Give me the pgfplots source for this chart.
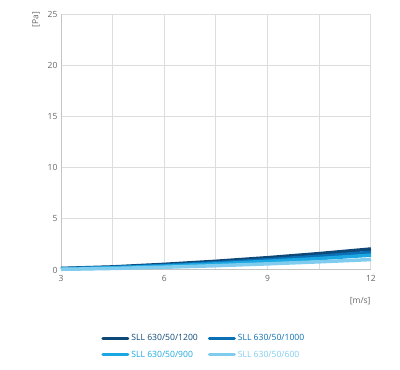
\documentclass[border=0pt]{standalone}
\usepackage{pgfplots}
\pgfplotsset{compat=1.18}
\usepackage{fontspec}
\setmainfont{Open Sans}
\definecolor{c1200}{HTML}{0D4877}
\definecolor{c1000}{HTML}{0A6FB4}
\definecolor{c900}{HTML}{1BA8E2}
\definecolor{c600}{HTML}{7FCCEF}
\definecolor{txt}{HTML}{666666}
\definecolor{gridc}{HTML}{DDDDDD}
\definecolor{axc}{HTML}{C4C4C4}
\begin{document}
\begin{tikzpicture}[x=1pt,y=1pt]
\useasboundingbox (0,0) rectangle (400,370);
\begin{axis}[
  at={(61pt,100pt)}, anchor=south west,
  scale only axis, width=310pt, height=256pt,
  xmin=3, xmax=12, ymin=0, ymax=25,
  xtick={3,6,9,12}, minor xtick={4.5,7.5,10.5},
  ytick={0,5,10,15,20,25},
  grid=both,
  major grid style={gridc, line width=1pt},
  minor grid style={gridc, line width=1pt},
  axis line style={axc, line width=1pt},
  axis x line*=bottom, axis y line*=left,
  tick style={draw=none},
  ticklabel style={font=\fontsize{8.5}{10}\selectfont, text=txt},
  /pgf/number format/assume math mode=true,
  xticklabel style={yshift=-2pt},
  clip=false,
  legend columns=2,
  legend cell align=left,
  legend style={draw=none, fill=none, at={(0.12,-0.235)}, anchor=north west,
    font=\fontsize{8.6}{10}\selectfont, /tikz/every even column/.append style={column sep=8pt},
    row sep=5pt},
  legend image code/.code={\draw[#1, line width=3pt, line cap=round] (0pt,0pt) -- (25pt,0pt);},
]
\addplot[c1200, line width=3.5pt] coordinates {(3,0.15)(4.5,0.3)(6,0.55)(7.5,0.85)(9,1.2)(10.5,1.6)(12,2.05)};
\addlegendentry{\textcolor{c1200}{SLL 630/50/1200}}
\addplot[c1000, line width=3.5pt] coordinates {(3,0.12)(4.5,0.25)(6,0.45)(7.5,0.7)(9,1.0)(10.5,1.35)(12,1.72)};
\addlegendentry{\textcolor{c1000}{SLL 630/50/1000}}
\addplot[c900, line width=3.5pt] coordinates {(3,0.1)(4.5,0.22)(6,0.38)(7.5,0.6)(9,0.85)(10.5,1.12)(12,1.45)};
\addlegendentry{\textcolor{c900}{SLL 630/50/900}}
\addplot[c600, line width=3.5pt] coordinates {(3,0.07)(4.5,0.15)(6,0.27)(7.5,0.42)(9,0.6)(10.5,0.8)(12,1.02)};
\addlegendentry{\textcolor{c600}{SLL 630/50/600}}
\node[rotate=90, text=txt, font=\fontsize{8.5}{10}\selectfont] at (rel axis cs:-0.081,0.977) {[Pa]};
\node[text=txt, font=\fontsize{8.5}{10}\selectfont] at (rel axis cs:0.965,-0.12) {[m/s]};
\end{axis}
\end{tikzpicture}
\end{document}
